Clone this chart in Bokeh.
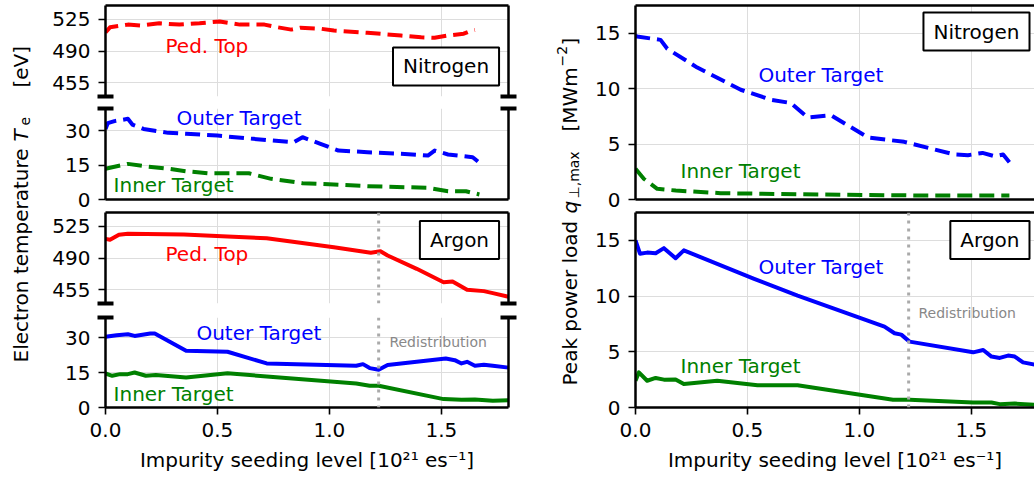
import math
from bokeh.plotting import figure
from bokeh.models import (Range1d, LinearAxis, FixedTicker, Grid, Span, Label,
                          PrintfTickFormatter)
from bokeh.layouts import row, column
from bokeh.core.properties import value
from bokeh.embed import file_html
from bokeh.resources import INLINE

# ---------------- data ----------------
# Nitrogen, electron temperature [eV]
N_PED_X = [0.0, 0.02, 0.10, 0.16, 0.24, 0.33, 0.42, 0.51, 0.60, 0.71, 0.77, 0.83, 0.87,
           0.96, 1.02, 1.17, 1.32, 1.41, 1.47, 1.53, 1.60, 1.63, 1.65]
N_PED = [510.5, 516, 519, 518, 520.5, 519, 520.5, 522.5, 519, 519, 516, 513.5, 515.5,
         514.5, 512.5, 510, 507, 505, 504.5, 507, 509, 512, 513]
N_OUT_X = [0.0, 0.01, 0.04, 0.10, 0.12, 0.17, 0.28, 0.36, 0.50, 0.66, 0.84, 0.88, 0.96,
           1.04, 1.17, 1.32, 1.44, 1.47, 1.53, 1.64, 1.67]
N_OUT = [30.7, 33.2, 34.1, 35.1, 32.6, 30.7, 29.0, 28.6, 27.8, 26.4, 24.9, 27.1, 24.2,
         21.3, 20.6, 19.9, 19.1, 21.3, 19.6, 18.4, 16.0]
N_IN_X = [0.0, 0.10, 0.18, 0.28, 0.36, 0.46, 0.64, 0.74, 0.88, 1.02, 1.17, 1.44, 1.53,
          1.61, 1.67]
N_IN = [13.4, 15.5, 14.4, 13.4, 12.3, 11.4, 11.4, 9.0, 7.1, 6.5, 5.8, 5.1, 3.6, 3.6, 2.2]

# Argon, electron temperature [eV]
AR_PED_X = [0.0, 0.02, 0.06, 0.10, 0.35, 0.545, 0.72, 1.02, 1.185, 1.228, 1.26, 1.39,
            1.51, 1.55, 1.615, 1.69, 1.73, 1.80]
AR_PED = [511, 510, 515.5, 516.6, 515.8, 513.6, 511.8, 501.9, 495.7, 497.5, 492.7, 478.1,
          463.4, 464.2, 455, 453.6, 451.4, 447.5]
AR_OUT_X = [0.0, 0.05, 0.10, 0.13, 0.20, 0.22, 0.36, 0.545, 0.72, 1.12, 1.15, 1.18, 1.22,
            1.26, 1.52, 1.56, 1.59, 1.615, 1.65, 1.69, 1.73, 1.80]
AR_OUT = [30.3, 31.0, 31.4, 30.7, 31.7, 31.7, 24.3, 23.9, 18.9, 17.9, 18.6, 16.9, 16.2,
          18.2, 21.0, 20.3, 18.9, 19.6, 17.9, 18.3, 17.9, 17.1]
AR_IN_X = [0.0, 0.03, 0.065, 0.10, 0.13, 0.18, 0.225, 0.36, 0.545, 0.72, 1.12, 1.18, 1.22,
           1.51, 1.59, 1.65, 1.73, 1.80]
AR_IN = [14.6, 13.6, 14.3, 14.3, 15.0, 13.6, 13.9, 12.9, 14.7, 13.3, 10.3, 9.3, 9.3,
         3.6, 3.3, 3.4, 2.9, 3.1]

# Nitrogen, peak power load [MW m^-2]
QN_OUT_X = [0.0, 0.007, 0.112, 0.142, 0.276, 0.47, 0.605, 0.694, 0.769, 0.873, 1.038, 1.2,
            1.425, 1.485, 1.55, 1.605, 1.642, 1.67]
QN_OUT = [14.8, 14.7, 14.4, 13.6, 11.9, 9.9, 9.0, 8.7, 7.4, 7.6, 5.6, 5.2, 4.06, 4.0, 4.2,
          3.9, 4.06, 3.36]
QN_IN_X = [0.0, 0.037, 0.097, 0.18, 0.38, 0.83, 1.28, 1.67]
QN_IN = [2.77, 1.87, 0.96, 0.81, 0.57, 0.45, 0.36, 0.36]

# Argon, peak power load [MW m^-2]
QA_OUT_X = [0.0, 0.02, 0.052, 0.09, 0.127, 0.179, 0.216, 0.53, 0.724, 1.112, 1.157, 1.187,
            1.224, 1.508, 1.553, 1.59, 1.627, 1.664, 1.694, 1.731, 1.784, 1.80]
QA_OUT = [15.0, 13.8, 13.9, 13.85, 14.3, 13.4, 14.1, 11.55, 10.05, 7.26, 6.66, 6.54, 5.91,
          4.95, 5.16, 4.57, 4.45, 4.66, 4.57, 4.05, 3.85, 3.8]
QA_IN_X = [0.0, 0.015, 0.052, 0.09, 0.127, 0.179, 0.216, 0.365, 0.545, 0.724, 1.15, 1.224,
           1.508, 1.59, 1.627, 1.694, 1.80]
QA_IN = [2.4, 3.15, 2.4, 2.65, 2.5, 2.52, 2.1, 2.4, 2.0, 2.0, 0.69, 0.69, 0.45, 0.45, 0.3,
         0.35, 0.22]

REDISTRIBUTION_X = 1.22
X_TICKS = [0.0, 0.5, 1.0, 1.5]
T_HIGH_TICKS = [455, 490, 525]
T_LOW_TICKS = [0, 15, 30]
Q_TICKS = [0, 5, 10, 15]
X_LABEL = "Impurity seeding level [10²¹ es⁻¹]"

# ---------------- style ----------------
FONT = "DejaVu Sans"
RED, BLUE, GREEN = "#ff0000", "#0000ff", "#008000"
GRID = "#dddddd"
SPINE_W = 2.5
LINE_W = 4
DASH = "15 7"

FRAME_W_L = 403
PXU = FRAME_W_L / 1.8  # pixels per x unit


def make_fig(width, height, xr, yr, left, right, top, bottom):
    p = figure(width=width, height=height, x_range=Range1d(*xr), y_range=Range1d(*yr),
               toolbar_location=None, output_backend="svg",
               x_axis_location=None, y_axis_location=None,
               min_border_left=left, min_border_right=right,
               min_border_top=top, min_border_bottom=bottom)
    p.outline_line_color = None
    p.background_fill_color = "white"
    p.border_fill_color = "white"
    p.grid.visible = False
    return p


def style_axis(ax):
    ax.axis_line_width = SPINE_W
    ax.axis_line_color = "black"
    ax.major_tick_line_width = 1.6
    ax.major_tick_line_color = "black"
    ax.major_tick_out = 7
    ax.major_tick_in = 0
    ax.minor_tick_out = 0
    ax.minor_tick_in = 0
    ax.major_label_text_font = FONT
    ax.major_label_text_font_size = "20px"
    ax.major_label_text_color = "black"
    ax.major_label_standoff = 8


def add_yaxis(p, ticks):
    ax = LinearAxis(ticker=FixedTicker(ticks=ticks))
    style_axis(ax)
    p.add_layout(ax, "left")


def add_spine(p, side):
    ax = LinearAxis(ticker=FixedTicker(ticks=[]))
    ax.axis_line_width = SPINE_W
    ax.axis_line_color = "black"
    ax.major_tick_out = 0
    ax.major_tick_in = 0
    ax.minor_tick_out = 0
    ax.minor_tick_in = 0
    ax.major_label_standoff = 0
    p.add_layout(ax, side)


def add_xaxis(p):
    ax = LinearAxis(ticker=FixedTicker(ticks=X_TICKS),
                    formatter=PrintfTickFormatter(format="%.1f"))
    style_axis(ax)
    ax.axis_label = X_LABEL
    ax.axis_label_text_font = FONT
    ax.axis_label_text_font_size = "20px"
    ax.axis_label_text_font_style = "normal"
    ax.axis_label_text_color = "black"
    ax.axis_label_standoff = 8
    p.add_layout(ax, "below")


def add_grid(p, yticks):
    p.add_layout(Grid(dimension=0, ticker=FixedTicker(ticks=[0.5, 1.0, 1.5]),
                      grid_line_color=GRID, grid_line_width=1))
    p.add_layout(Grid(dimension=1, ticker=FixedTicker(ticks=yticks),
                      grid_line_color=GRID, grid_line_width=1))


def add_break(p, xr, side):
    # "broken axis" marks: short, wide (label-free) minor ticks straddling the frame corners
    eps = (xr[1] - xr[0]) * 1e-6
    ax = LinearAxis(ticker=FixedTicker(ticks=[], minor_ticks=[xr[0] + eps, xr[1] - eps]))
    ax.axis_line_color = None
    ax.major_tick_in = 0
    ax.major_tick_out = 0
    ax.minor_tick_in = 2
    ax.minor_tick_out = 2
    ax.minor_tick_line_width = 16
    ax.minor_tick_line_color = "black"
    ax.minor_tick_line_cap = "butt"
    ax.major_label_standoff = 0
    p.add_layout(ax, side)


def add_text(p, x, y, txt, color, size="20px"):
    p.text(x=[x], y=[y], text=[txt], text_color=color, text_font=value(FONT),
           text_font_size=value(size), text_align="left", text_baseline="middle")


def add_box(p, x, y, txt):
    p.add_layout(Label(x=x, y=y, text=txt, text_font=FONT, text_font_size="20px",
                       text_align="center", text_baseline="middle", text_color="black",
                       border_line_color="black", border_line_width=2,
                       background_fill_color="white", padding=(10, 7)))


def add_redis(p):
    p.add_layout(Span(location=REDISTRIBUTION_X, dimension="height", line_color="#aaaaaa",
                      line_dash="3 5", line_width=3))


def line(p, x, y, color, dash=None):
    kw = dict(line_color=color, line_width=LINE_W, line_join="round")
    if dash:
        kw["line_dash"] = dash
    p.line(x, y, **kw)


XR_L = (0.0, 1.8)
W_L = 65 + FRAME_W_L + 22

# ---------------- left column ----------------
YR_NH = (440, 540)
n_up = make_fig(W_L, 102, XR_L, YR_NH, 65, 22, 5, 6)
add_grid(n_up, T_HIGH_TICKS)
add_yaxis(n_up, T_HIGH_TICKS)
add_spine(n_up, "above")
add_spine(n_up, "right")
add_break(n_up, XR_L, "below")
line(n_up, N_PED_X, N_PED, RED, DASH)
add_text(n_up, 0.268, 496, "Ped. Top", RED)
add_box(n_up, 1.521, 473, "Nitrogen")

YR_NL = (0, 39.6)
n_lo = make_fig(W_L, 109, XR_L, YR_NL, 65, 22, 6, 12)
add_grid(n_lo, T_LOW_TICKS)
add_yaxis(n_lo, T_LOW_TICKS)
add_spine(n_lo, "below")
add_spine(n_lo, "right")
add_break(n_lo, XR_L, "above")
line(n_lo, N_OUT_X, N_OUT, BLUE, DASH)
line(n_lo, N_IN_X, N_IN, GREEN, DASH)
add_text(n_lo, 0.317, 35.25, "Outer Target", BLUE)
add_text(n_lo, 0.036, 6.1, "Inner Target", GREEN)

YR_AH = (440, 540)
a_up = make_fig(W_L, 99, XR_L, YR_AH, 65, 22, 1, 7)
add_grid(a_up, T_HIGH_TICKS)
add_yaxis(a_up, T_HIGH_TICKS)
add_spine(a_up, "above")
add_spine(a_up, "right")
add_break(a_up, XR_L, "below")
add_redis(a_up)
line(a_up, AR_PED_X, AR_PED, RED)
add_text(a_up, 0.268, 494.6, "Ped. Top", RED)
add_box(a_up, 1.581, 509.8, "Argon")

YR_AL = (0, 38.6)
a_lo = make_fig(W_L, 172, XR_L, YR_AL, 65, 22, 7, 75)
add_grid(a_lo, T_LOW_TICKS)
add_yaxis(a_lo, T_LOW_TICKS)
add_xaxis(a_lo)
add_spine(a_lo, "right")
add_break(a_lo, XR_L, "above")
add_redis(a_lo)
line(a_lo, AR_OUT_X, AR_OUT, BLUE)
line(a_lo, AR_IN_X, AR_IN, GREEN)
add_text(a_lo, 0.406, 31.9, "Outer Target", BLUE)
add_text(a_lo, 0.036, 5.9, "Inner Target", GREEN)
add_text(a_lo, 1.268, 28.0, "Redistribution", "#888888", "14px")

# ---------------- right column ----------------
W_R = 1034 - 585
FRAME_W_R = W_R - 50
XR_R = (0.0, FRAME_W_R / PXU)
YR_Q = (0, 17.5)

qn = make_fig(W_R, 211, XR_R, YR_Q, 50, 0, 5, 12)
add_grid(qn, Q_TICKS)
add_yaxis(qn, Q_TICKS)
add_spine(qn, "above")
add_spine(qn, "below")
line(qn, QN_OUT_X, QN_OUT, BLUE, DASH)
line(qn, QN_IN_X, QN_IN, GREEN, DASH)
add_text(qn, 0.549, 11.2, "Outer Target", BLUE)
add_text(qn, 0.201, 2.6, "Inner Target", GREEN)
add_box(qn, 1.523, 15.15, "Nitrogen")

qa = make_fig(W_R, 271, XR_R, YR_Q, 50, 0, 1, 75)
add_grid(qa, Q_TICKS)
add_yaxis(qa, Q_TICKS)
add_spine(qa, "above")
add_xaxis(qa)
add_redis(qa)
line(qa, QA_OUT_X, QA_OUT, BLUE)
line(qa, QA_IN_X, QA_IN, GREEN)
add_text(qa, 0.549, 12.6, "Outer Target", BLUE)
add_text(qa, 0.201, 3.75, "Inner Target", GREEN)
add_text(qa, 1.264, 8.47, "Redistribution", "#888888", "14px")
add_box(qa, 1.583, 15.03, "Argon")


# ---------------- y-axis titles ----------------
def label_fig(width):
    p = figure(width=width, height=482, x_range=Range1d(0, width), y_range=Range1d(0, 482),
               toolbar_location=None, output_backend="svg",
               x_axis_location=None, y_axis_location=None,
               min_border_left=0, min_border_right=0, min_border_top=0, min_border_bottom=0)
    p.outline_line_color = None
    p.grid.visible = False
    p.background_fill_color = "white"
    p.border_fill_color = "white"
    return p


def vtext(p, x, top_px, txt, size="20px", style="normal"):
    p.text(x=[x], y=[482 - top_px], text=[txt], angle=math.pi / 2, text_color="black",
           text_font=value(FONT), text_font_size=value(size), text_font_style=style,
           text_align="left", text_baseline="middle")


lab_l = label_fig(40)
vtext(lab_l, 20, 362, "Electron temperature")
vtext(lab_l, 20, 141, "T", style="italic")
vtext(lab_l, 24, 125, "e", size="14px")
vtext(lab_l, 20, 87, "[eV]")

lab_r = label_fig(55)
vtext(lab_r, 39, 385, "Peak power load")
vtext(lab_r, 39, 213, "q", style="italic")
vtext(lab_r, 43, 198, "⊥,max", size="14px")
vtext(lab_r, 39, 131, "[MWm")
vtext(lab_r, 31, 66, "−2", size="14px")
vtext(lab_r, 39, 45, "]")

layout = row(lab_l, column(n_up, n_lo, a_up, a_lo), lab_r, column(qn, qa))

open("out.html", "w").write(file_html(layout, INLINE))
